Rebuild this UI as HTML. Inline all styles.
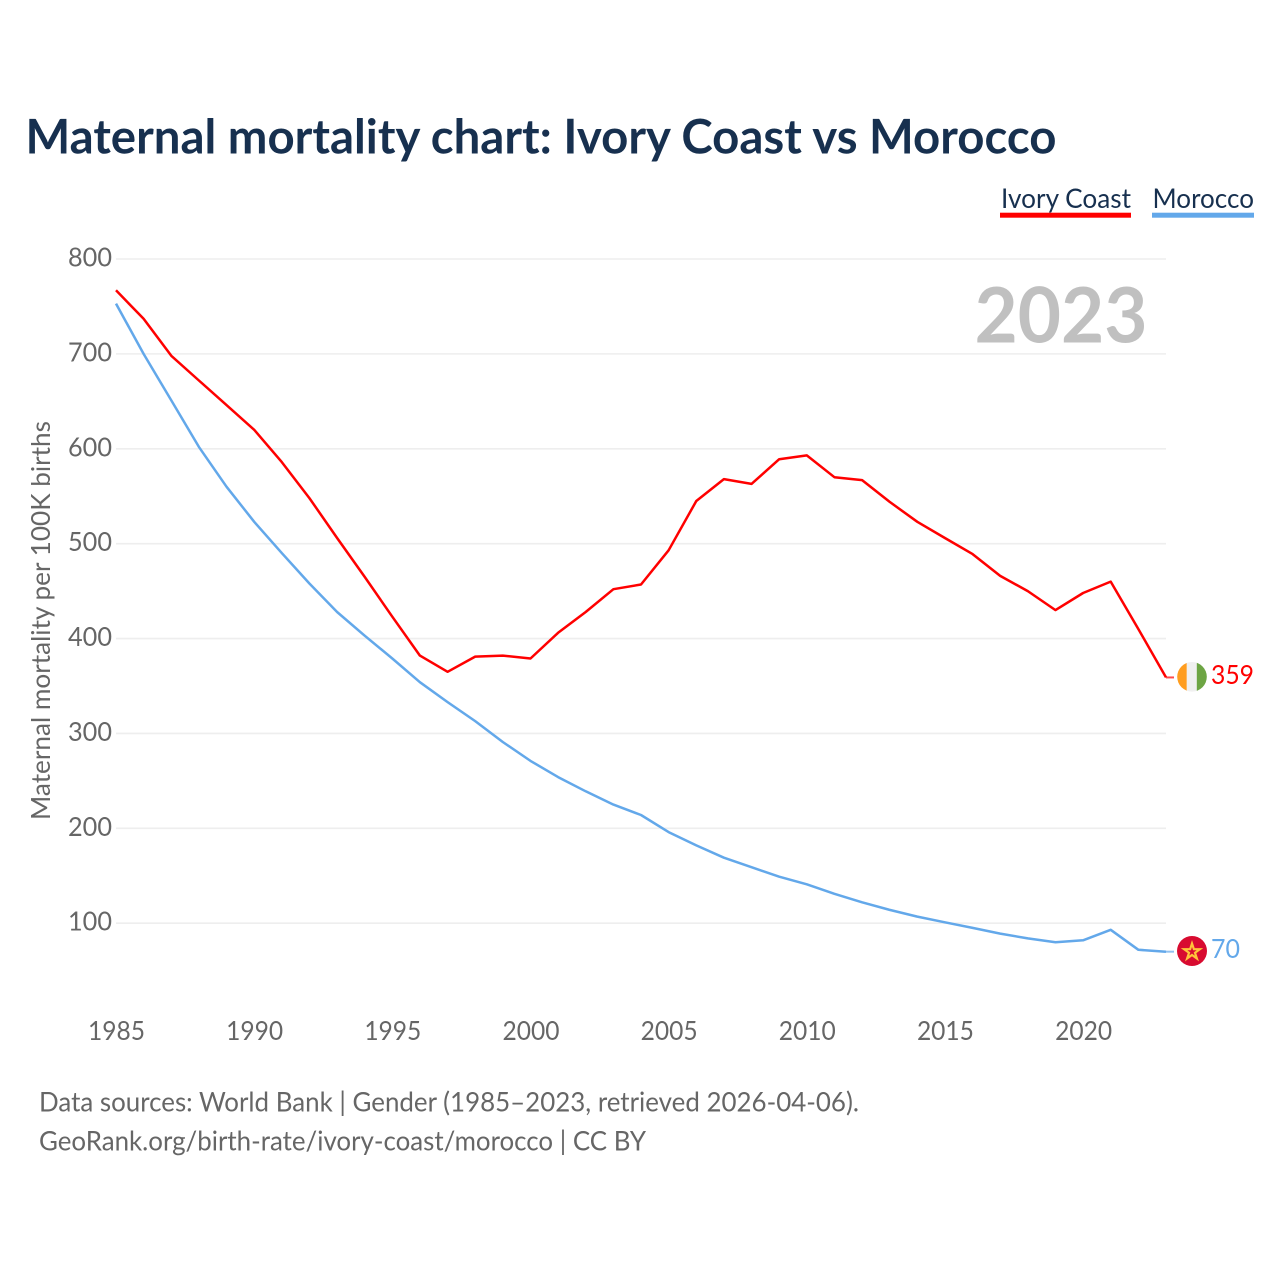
<!DOCTYPE html>
<html lang="en">
<head>
<meta charset="utf-8">
<title>Maternal mortality chart: Ivory Coast vs Morocco</title>
<style>
html,body{margin:0;padding:0;background:#fff;width:1280px;height:1280px;overflow:hidden}
svg{display:block}
text{font-family:"Lato","Carlito","Liberation Sans",sans-serif}
</style>
</head>
<body>
<svg id="chart" xmlns="http://www.w3.org/2000/svg" width="1280" height="1280" viewBox="0 0 1280 1280">
  <rect width="1280" height="1280" fill="#fff"/>
  <text x="25.5" y="153.5" font-size="48" font-weight="700" fill="#17304f" textLength="1031" lengthAdjust="spacingAndGlyphs">Maternal mortality chart: Ivory Coast vs Morocco</text>
  <g id="grid"></g>
  <text x="974.5" y="342.5" font-size="77" font-weight="700" fill="#c0c0c0" textLength="173" lengthAdjust="spacingAndGlyphs">2023</text>
  <g id="yticks"></g>
  <g id="xticks"></g>
  <text transform="translate(50,820) rotate(-90)" font-size="26" fill="#666" textLength="399" lengthAdjust="spacingAndGlyphs">Maternal mortality per 100K births</text>
  <g id="series"></g>

  <g>
    <text x="1001" y="208" font-size="27" fill="#17304f" textLength="130" lengthAdjust="spacingAndGlyphs">Ivory Coast</text>
    <rect x="1000" y="212.7" width="131" height="5" fill="#ff0000"/>
  </g>
  <g>
    <text x="1152.5" y="208" font-size="27" fill="#17304f" textLength="101.5" lengthAdjust="spacingAndGlyphs">Morocco</text>
    <rect x="1152" y="212.7" width="102" height="5" fill="#63a8ea"/>
  </g>

  <defs>
    <clipPath id="flag-clip-ci"><circle cx="1192" cy="676.8" r="14.8"/></clipPath>
  </defs>
  <g id="flag-ci" clip-path="url(#flag-clip-ci)">
    <rect x="1177" y="661" width="9.8" height="32" fill="#ff9d1f"/>
    <rect x="1186.8" y="661" width="10" height="32" fill="#f0f0f0"/>
    <rect x="1196.8" y="661" width="10.2" height="32" fill="#6da544"/>
  </g>
  <g id="flag-ma">
    <circle cx="1192" cy="951" r="15" fill="#d80b30"/>
    <polygon points="1192,943.5 1193.9,949.2 1199.9,949.2 1195,952.8 1196.9,958.5 1192,955 1187.1,958.5 1189,952.8 1184.1,949.2 1190.1,949.2" fill="none" stroke="#ffc33a" stroke-width="2.2"/>
  </g>
  <text id="end-ci" x="1211" y="684" font-size="26" fill="#ff0000" textLength="43" lengthAdjust="spacingAndGlyphs"></text>
  <text id="end-ma" x="1211" y="958" font-size="26" fill="#63a8ea" textLength="29" lengthAdjust="spacingAndGlyphs"></text>

  <text x="39" y="1111.5" font-size="27" fill="#666" textLength="820" lengthAdjust="spacingAndGlyphs">Data sources: World Bank | Gender (1985–2023, retrieved 2026-04-06).</text>
  <text x="39" y="1150.5" font-size="27" fill="#666" textLength="607" lengthAdjust="spacingAndGlyphs">GeoRank.org/birth-rate/ivory-coast/morocco | CC BY</text>
</svg>
<script>
const startYear = 1985;
const yTickValues = [100, 200, 300, 400, 500, 600, 700, 800];
const xTickValues = [1985, 1990, 1995, 2000, 2005, 2010, 2015, 2020];
const ivoryCoast = [767, 737, 698, 672, 646, 620, 586, 548, 506, 465, 423, 382, 365, 381, 382, 379, 406, 428, 452, 457, 493, 545, 568, 563, 589, 593, 570, 567, 544, 523, 506, 489, 466, 450, 430, 448, 460, 410, 359];
const morocco = [753, 700, 651, 602, 560, 523, 490, 458, 428, 403, 379, 354, 333, 313, 291, 271, 254, 239, 225, 214, 196, 182, 169, 159, 149, 141, 131, 122, 114, 107, 101, 95, 89, 84, 80, 82, 93, 72, 70];

const NS = 'http://www.w3.org/2000/svg';
function xScale(year) { return 116 + (year - 1985) * (1166 - 116) / (2023 - 1985); }
function yScale(v) { return 259 + (800 - v) * (923.2 - 259) / 700; }
function make(tag, attrs, parent) {
  const el = document.createElementNS(NS, tag);
  for (const k in attrs) el.setAttribute(k, attrs[k]);
  parent.appendChild(el);
  return el;
}
const grid = document.getElementById('grid');
const yticks = document.getElementById('yticks');
const xticks = document.getElementById('xticks');
const series = document.getElementById('series');

yTickValues.forEach(function (v) {
  const line = make('line', { x1: 116, x2: 1166, y1: yScale(v), y2: yScale(v), stroke: '#eeeeee', 'stroke-width': 1.6 }, grid);
  
  
  const t = make('text', { x: 112, y: yScale(v) + 7.5, 'text-anchor': 'end', 'font-size': 26, fill: '#666', textLength: 44, lengthAdjust: 'spacingAndGlyphs' }, yticks);
  t.textContent = v;
  
  
});
xTickValues.forEach(function (y) {
  const t = make('text', { x: xScale(y) + 0.5, y: 1040, 'text-anchor': 'middle', 'font-size': 26, fill: '#666', textLength: 57, lengthAdjust: 'spacingAndGlyphs' }, xticks);
  t.textContent = y;
  
  
});
function drawSeries(values, color, key) {
  const pts = values.map(function (v, i) { return xScale(startYear + i).toFixed(1) + ',' + yScale(v).toFixed(1); }).join(' ');
  const line = make('polyline', { points: pts, fill: 'none', stroke: color, 'stroke-width': 2.5, 'stroke-linejoin': 'round' }, series);
  
  
  const last = values[values.length - 1];
  const conn = make('line', { x1: xScale(2023), x2: 1174, y1: yScale(last), y2: yScale(last), stroke: color, 'stroke-width': 2, opacity: 0.7 }, series);
  
  
}
drawSeries(ivoryCoast, '#ff0000', 'ivory-coast');
drawSeries(morocco, '#63a8ea', 'morocco');
document.getElementById('end-ci').textContent = ivoryCoast[ivoryCoast.length - 1];
document.getElementById('end-ma').textContent = morocco[morocco.length - 1];
</script>
</body>
</html>
